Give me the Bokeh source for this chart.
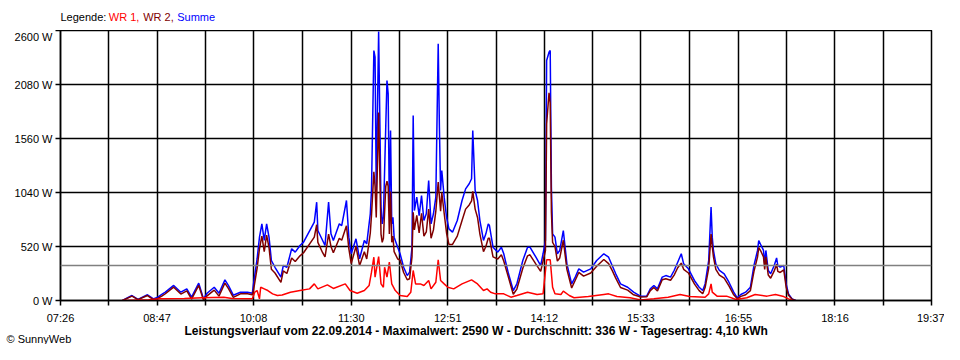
from bokeh.plotting import figure
from bokeh.layouts import column
from bokeh.models import Range1d, FixedTicker, CustomJSTickFormatter, PrintfTickFormatter, Span, Title
from bokeh.core.properties import value
from bokeh.embed import file_html
from bokeh.resources import INLINE

FONT = "Liberation Sans"
W = 944
FRAME_L, FRAME_R = 60, 931   # frame edges in page pixels

# ---------------- data ----------------
x_tick_labels = ["07:26", "08:47", "10:08", "11:30", "12:51", "14:12", "15:33", "16:55", "18:16", "19:37"]
y_ticks = [0, 520, 1040, 1560, 2080, 2600]
avg_w = 336

legend_texts = ["Legende:", "WR 1,", "WR 2,", "Summe"]
legend_colors = ["black", "#FF0000", "#800000", "#0000FF"]
title_text = "Leistungsverlauf vom 22.09.2014 - Maximalwert: 2590 W - Durchschnitt: 336 W - Tagesertrag: 4,10 kWh"
credit_text = "© SunnyWeb"

# Summe (blue) and WR 2 (dark red) share one time grid
sum_t = ["08:18","08:26","08:31","08:39","08:44","08:48","08:51","08:54",
         "09:01","09:07","09:12","09:16","09:22","09:26","09:29","09:35","09:39","09:44","09:47","09:51","09:57",
         "10:03","10:07","10:08","10:11","10:13","10:15","10:17","10:19","10:21","10:23","10:26","10:31","10:33","10:36","10:40","10:43","10:47","10:50","10:59",
         "11:01","11:02","11:06","11:08","11:11","11:13","11:15","11:20","11:22","11:26","11:28","11:30","11:34","11:37","11:41","11:43","11:46","11:47",
         "11:49","11:50","11:51","11:53","11:55","11:56","11:57","11:59",
         "12:00","12:01","12:02","12:03","12:04","12:05","12:06","12:09","12:11","12:14","12:17","12:19","12:21","12:22","12:23","12:25","12:27","12:29",
         "12:31","12:33","12:35","12:37","12:39","12:41","12:43","12:44","12:45","12:46","12:48","12:50","12:52","12:55","12:59",
         "13:03","13:06","13:09","13:11","13:12","13:14","13:16","13:18","13:21","13:23","13:25","13:26","13:29","13:33","13:36","13:38","13:42","13:46","13:49","13:54","13:58",
         "14:00","14:05","14:09","14:11","14:13","14:14","14:16","14:17","14:18","14:19","14:21","14:23","14:25","14:28","14:31","14:35","14:38","14:41","14:45","14:51","14:56",
         "15:02","15:06","15:09","15:12","15:16","15:22","15:27","15:33","15:38","15:41","15:44","15:47","15:51","15:54","15:58",
         "16:01","16:04","16:07","16:09","16:13","16:18","16:22","16:25","16:27","16:30","16:32","16:33","16:34","16:36","16:39","16:43","16:47","16:51","16:54","16:57",
         "17:01","17:05","17:08","17:11","17:12","17:14","17:16","17:17","17:18","17:20","17:22","17:25","17:27","17:28","17:30","17:33","17:35","17:37","17:40","17:43"]
summe = [0,48,10,55,15,35,58,80,
         145,80,112,32,167,16,70,128,70,199,144,51,80,
         80,70,160,400,610,738,578,738,610,385,320,225,337,320,498,466,530,562,754,
         947,674,578,530,947,642,578,738,722,963,610,450,594,402,578,546,835,1059,
         2407,2343,1059,2590,900,738,802,1685,
         2119,1990,866,1637,738,802,610,513,450,320,240,273,513,1781,866,995,818,1011,
         770,835,1156,738,835,995,2472,1669,1059,1252,995,802,690,658,770,
         963,1075,1124,1172,1637,1059,963,770,578,642,738,722,513,466,513,450,257,96,160,385,513,
         513,417,337,450,578,2311,2391,2407,1091,642,610,450,482,674,353,160,225,305,273,305,385,
         450,417,337,257,160,128,80,40,42,112,144,112,225,240,225,
         289,369,450,353,305,193,128,96,160,385,899,610,482,353,289,257,176,80,26,58,
         80,128,337,482,578,530,482,353,482,289,257,337,410,337,321,337,160,64,16,0]
wr2 = [0,42,8,48,8,22,42,65,
       128,62,92,14,145,4,45,100,42,168,115,30,64,
       64,55,100,310,500,620,470,630,510,300,265,175,285,260,410,375,430,460,610,
       730,560,460,420,640,520,460,600,580,720,500,355,520,335,470,400,650,820,
       1240,1100,800,1810,640,560,600,1100,
       1150,1100,640,1050,560,620,470,400,390,270,200,210,420,850,680,820,650,840,
       620,660,880,600,680,860,1140,1000,860,1040,840,650,540,540,620,
       770,880,920,960,1050,880,800,640,470,520,600,600,420,400,440,380,220,60,110,310,430,
       440,350,280,380,480,1700,2000,1900,850,560,520,380,410,580,300,120,195,270,235,265,330,
       395,355,290,215,125,100,55,34,36,95,125,92,200,210,195,
       245,315,360,300,265,160,95,65,125,310,640,520,420,300,245,215,140,55,16,40,
       55,95,280,420,510,470,420,300,420,245,215,285,350,280,270,295,130,50,12,0]

wr1_t = ["08:18","08:40","08:50","09:10","09:25","09:43","09:50","10:07","10:09","10:11","10:13","10:14","10:17","10:20",
         "10:24","10:28","10:32","10:39","10:47","10:55","10:59","11:02","11:10","11:15","11:25","11:29","11:35","11:41",
         "11:45","11:47","11:49","11:50","11:53","11:55","11:57","11:58","12:00","12:02","12:04","12:07","12:11","12:17",
         "12:20","12:22","12:24","12:28","12:31","12:35","12:37","12:41","12:43","12:45","12:48","12:51","12:56","13:03",
         "13:11","13:16","13:21","13:24","13:27","13:31","13:38","13:44","13:49","13:58","14:06","14:11","14:14","14:17",
         "14:19","14:21","14:26","14:28","14:33","14:37","14:49","15:02","15:06","15:13","15:24","15:33","15:44","15:56",
         "16:06","16:14","16:27","16:30","16:32","16:33","16:37","16:45","16:53","17:02","17:09","17:19","17:26","17:33",
         "17:37","17:40"]
wr1 = [0,8,16,20,26,32,20,16,80,96,16,128,112,96,
       64,48,53,80,96,112,160,112,150,116,160,96,70,96,
       144,273,417,225,423,160,128,320,225,369,160,96,48,38,
       80,289,160,160,144,193,112,176,392,193,160,128,112,160,
       199,160,96,112,80,64,64,32,48,80,58,64,392,392,
       128,64,58,90,48,26,38,58,64,38,26,6,16,32,
       58,38,32,64,160,80,42,42,10,26,58,42,58,38,
       16,0]

assert len(sum_t) == len(summe) == len(wr2)
assert len(wr1_t) == len(wr1)


def tmin(s):
    h, m = s.split(":")
    return int(h) * 60 + int(m)


sum_x = [tmin(s) for s in sum_t]
wr1_x = [tmin(s) for s in wr1_t]
major = [tmin(s) for s in x_tick_labels]
minor = [(a + b) / 2 for a, b in zip(major[:-1], major[1:])]

# ---------------- legend strip (top); its frame is aligned with the chart frame ----------------
top = figure(width=W, height=30, x_range=Range1d(FRAME_L, FRAME_R), y_range=Range1d(0, 30),
             x_axis_type=None, y_axis_type=None, output_backend="svg", toolbar_location=None,
             min_border_left=FRAME_L, min_border_right=W - FRAME_R, min_border_top=0, min_border_bottom=0)
top.outline_line_color = None
top.grid.visible = False
top.text(x=[60, 108.3, 142.7, 176.7], y=[14] * 4, text=legend_texts, text_color=legend_colors,
         text_font=value(FONT), text_font_size="11px", text_baseline="middle", text_align="left")

# ---------------- main chart ----------------
p = figure(width=W, height=314,
           x_range=Range1d(major[0], major[-1]), y_range=Range1d(y_ticks[0], y_ticks[-1]),
           output_backend="svg", toolbar_location=None,
           min_border_left=FRAME_L, min_border_right=W - FRAME_R, min_border_top=0, min_border_bottom=44,
           background_fill_color="white", border_fill_color="white")
p.outline_line_color = "black"
p.outline_line_width = 1.5

xt = FixedTicker(ticks=major, minor_ticks=minor)
yt = FixedTicker(ticks=y_ticks)
p.xaxis.ticker = xt
p.yaxis.ticker = yt
p.xgrid.ticker = xt
p.ygrid.ticker = yt
p.xaxis.formatter = CustomJSTickFormatter(code="""
const m = Math.round(tick);
const h = Math.floor(m / 60), mm = m % 60;
return String(h).padStart(2, '0') + ':' + String(mm).padStart(2, '0');
""")
p.yaxis.formatter = PrintfTickFormatter(format="%d W")

for ax in (p.xaxis[0], p.yaxis[0]):
    ax.axis_line_color = "black"
    ax.axis_line_width = 1.5
    ax.major_tick_line_color = "black"
    ax.minor_tick_line_color = "black"
    ax.major_tick_line_width = 1.5
    ax.minor_tick_line_width = 1.5
    ax.major_tick_in = 0
    ax.minor_tick_in = 0
    ax.major_tick_out = 5
    ax.minor_tick_out = 5
    ax.major_label_text_font = FONT
    ax.major_label_text_font_size = "11px"
    ax.major_label_text_color = "black"
p.yaxis.minor_tick_out = 0
p.xaxis.major_label_standoff = 6
p.yaxis.major_label_standoff = 3

for g in (p.xgrid[0], p.ygrid[0]):
    g.grid_line_color = "black"
    g.grid_line_width = 1.5
p.xgrid.minor_grid_line_color = "black"
p.xgrid.minor_grid_line_width = 1.5

p.add_layout(Span(location=avg_w, dimension="width", line_color="#808080", line_width=1.5))

p.line(sum_x, summe, line_color="#0000FF", line_width=1.5)
p.line(sum_x, wr2, line_color="#800000", line_width=1.5)
p.line(wr1_x, wr1, line_color="#FF0000", line_width=1.5)

# ---------------- caption + credit below the axis ----------------
p.add_layout(Title(text=title_text, align="left", offset=184 - FRAME_L, standoff=-8,
                   vertical_align="middle", text_font=FONT, text_font_size="12px",
                   text_font_style="bold", text_color="black"), "below")
p.add_layout(Title(text=credit_text, align="left", offset=6 - FRAME_L, standoff=-6,
                   vertical_align="middle", text_font=FONT, text_font_size="11px",
                   text_font_style="normal", text_color="black"), "below")

layout = column(top, p, spacing=0)
open("out.html", "w").write(file_html(layout, INLINE))
